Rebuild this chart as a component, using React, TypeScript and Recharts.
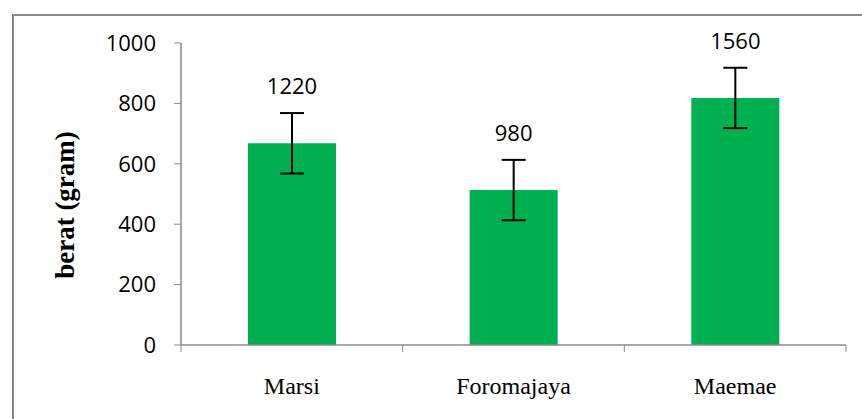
import React from 'react';
import { BarChart, Bar, XAxis, YAxis, ErrorBar, LabelList } from 'recharts';

// Data
const categories = ['Marsi', 'Foromajaya', 'Maemae'];
const weights = [668, 513, 818];
const errors = [100, 100, 100];
const barLabels = ['1220', '980', '1560'];
const yTicks = [0, 200, 400, 600, 800, 1000];

const W = 862;
const H = 419;
const M = { top: 43, right: 16, bottom: 14, left: 0 };
const Y_AXIS_W = 181;
const X_AXIS_H = 60;
const PLOT_W = W - M.right - Y_AXIS_W;
const PLOT_H = H - M.top - M.bottom - X_AXIS_H;
const BAND = PLOT_W / categories.length;
const Y_MAX = 1000;
const AXIS = '#8a8a8a';
const SERIF = "'Liberation Serif', 'Times New Roman', serif";

const chartData = categories.map((name, i) => ({
  name,
  berat: weights[i],
  sd: errors[i],
  label: barLabels[i],
}));

const CategoryTick = (props: any) => {
  const { x, y, payload, index } = props;
  return (
    <g>
      <line x1={x - BAND / 2} x2={x - BAND / 2} y1={y} y2={y + 7} stroke={AXIS} />
      {index === categories.length - 1 && (
        <line x1={x + BAND / 2} x2={x + BAND / 2} y1={y} y2={y + 7} stroke={AXIS} />
      )}
      <text
        x={x}
        y={y + 49}
        textAnchor="middle"
        style={{ fontFamily: SERIF, fontSize: 24, fill: '#000' }}
      >
        {payload.value}
      </text>
    </g>
  );
};

const ValueLabel = (props: any) => {
  const { x, y, width, index } = props;
  const errPx = (errors[index] / Y_MAX) * PLOT_H;
  return (
    <text
      x={x + width / 2}
      y={y - errPx - 19}
      textAnchor="middle"
      style={{ fontFamily: "'Open Sans', sans-serif", fontSize: 22, fill: '#000' }}
    >
      {barLabels[index]}
    </text>
  );
};

const YTitle = () => (
  <text
    x={65}
    y={205}
    transform="rotate(-90 65 205)"
    textAnchor="middle"
    dominantBaseline="central"
    style={{ fontFamily: SERIF, fontWeight: 'bold', fontSize: 27, fill: '#000' }}
  >
    berat (gram)
  </text>
);

export default function App() {
  return (
    <div style={{ position: 'absolute', left: 0, top: 0, width: W, height: H, background: '#fff', overflow: 'hidden' }}>
      <div
        style={{
          position: 'absolute',
          left: 12,
          top: 14,
          width: W,
          height: H,
          borderLeft: '2px solid #888',
          borderTop: '2px solid #888',
        }}
      />
      <div style={{ position: 'absolute', left: 0, top: 0 }}>
        <BarChart width={W} height={H} data={chartData} margin={M}>
          <XAxis
            dataKey="name"
            height={X_AXIS_H}
            axisLine={{ stroke: AXIS, strokeWidth: 1.5 }}
            tickLine={false}
            tickSize={0}
            tickMargin={0}
            tick={(p: any) => <CategoryTick {...p} />}
            interval={0}
          />
          <YAxis
            width={Y_AXIS_W}
            domain={[0, Y_MAX]}
            ticks={yTicks}
            interval={0}
            axisLine={{ stroke: AXIS, strokeWidth: 1.5 }}
            tickLine={{ stroke: AXIS }}
            tickSize={7}
            tickMargin={18}
            tick={{ fill: '#000', fontSize: 22, fontFamily: "'Open Sans', sans-serif" }}
            label={{ content: () => <YTitle /> }}
          />
          <Bar dataKey="berat" fill="#00b050" barSize={88} isAnimationActive={false}>
            <ErrorBar dataKey="sd" width={12} strokeWidth={2} stroke="#000" direction="y" />
            <LabelList dataKey="label" content={(p: any) => <ValueLabel {...p} />} />
          </Bar>
        </BarChart>
      </div>
    </div>
  );
}
